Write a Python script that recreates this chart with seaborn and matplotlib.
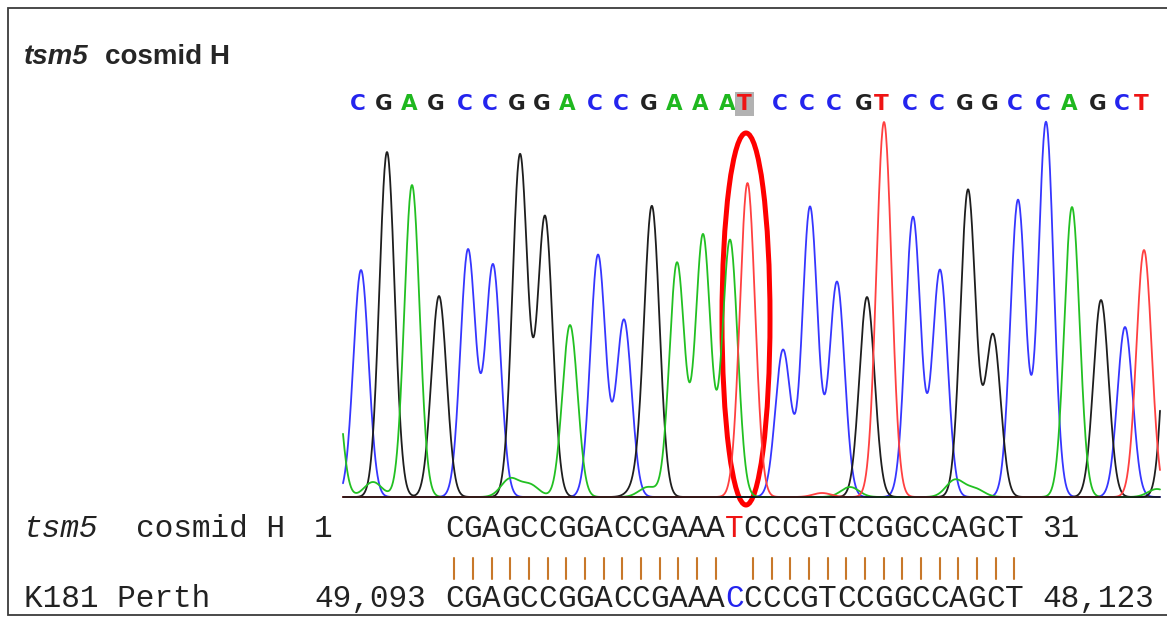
import numpy as np
import pandas as pd
import matplotlib.pyplot as plt
from matplotlib.patches import Ellipse
import seaborn as sns

# base calls over the trace window and the peak read for each one
# (scan position in px, height above the baseline in px)
base_calls = list("CGAGCCGGACCGAAATCCCGTCCGGCCAGCT")
peak_pos = [361, 387, 412, 439, 468, 493, 520, 545, 570, 598, 624, 652, 677, 703, 730,
            747.5, 783, 810, 837, 867, 884, 913, 940, 968, 993, 1018, 1046, 1072, 1101, 1125, 1144]
peak_height = [227, 345, 312, 201, 247, 232, 342, 280, 172, 242, 177, 285, 234, 262, 257,
               314, 147, 290, 215, 200, 375, 280, 227, 307, 162, 297, 375, 290, 197, 170, 247]

# peaks cut off by the edges of the window
edge_bases = ["A", "G"]
edge_pos = [333, 1172]
edge_height = [150, 300]

# small background bumps near the baseline
minor_bases = ["A", "A", "A", "G", "A", "T", "A", "A", "A", "A"]
minor_pos = [373, 510, 530, 640, 648, 822, 850, 955, 975, 1157]
minor_height = [15, 18, 12, 15, 10, 4, 10, 17, 8, 8]

# alignment below the trace
query_name = "tsm5"
query_desc = "cosmid H"
query_seq = "CGAGCCGGACCGAAATCCCGTCCGGCCAGCT"
query_start, query_end = "1", "31"
subject_name = "K181 Perth"
subject_seq = "CGAGCCGGACCGAAACCCCGTCCGGCCAGCT"
subject_start, subject_end = "49,093", "48,123"

trace_colors = {"C": "#3636ff", "G": "#1e1e1e", "A": "#22c022", "T": "#ff4040"}
call_colors = {"C": "#2424ee", "G": "#222222", "A": "#1fb81f", "T": "#ee1414"}

BASELINE = 497
X0, X1 = 343, 1160
SIGMA = 7.6
SIGMA_MINOR = 9.0

# build the four channels from the peak readings
scan = np.arange(X0, X1 + 0.25, 0.5)
rows = []
for b in "CGAT":
    sig = np.zeros_like(scan)
    for groups, s in (((base_calls, peak_pos, peak_height), SIGMA),
                      ((edge_bases, edge_pos, edge_height), SIGMA),
                      ((minor_bases, minor_pos, minor_height), SIGMA_MINOR)):
        for bb, p, h in zip(*groups):
            if bb == b:
                sig += h * np.exp(-(scan - p) ** 2 / (2 * s ** 2))
    rows.append(pd.DataFrame({"scan": scan, "y": BASELINE - sig, "base": b}))
trace = pd.concat(rows, ignore_index=True)

sns.set_theme(style="white")
plt.rcParams["font.family"] = ["Liberation Sans", "DejaVu Sans"]

fig = plt.figure(figsize=(11.67, 6.17), dpi=100)
ax = fig.add_axes([0, 0, 1, 1])
ax.set_xlim(0, 1167)
ax.set_ylim(617, 0)
ax.axis("off")

# frame
ax.plot([1167, 8, 8, 1167], [8, 8, 615, 615], color="#3c3c3c", lw=1.3, solid_joinstyle="miter")

# title
ax.text(24, 64, "tsm5", fontsize=20, fontweight="bold", style="italic", va="baseline")
ax.text(105, 64, "cosmid H", fontsize=20, fontweight="bold", va="baseline")

# traces
sns.lineplot(data=trace, x="scan", y="y", hue="base", palette=trace_colors,
             hue_order=["C", "G", "A", "T"], estimator=None, sort=False,
             lw=1.3, legend=False, ax=ax)
ax.plot([X0, X1], [BASELINE, BASELINE], color="#111111", lw=1.2)

# base calls above the trace
mismatch = [i for i, (a, b) in enumerate(zip(query_seq, subject_seq)) if a != b]
for i, (b, p) in enumerate(zip(base_calls, peak_pos)):
    kw = {}
    if i in mismatch:
        kw["bbox"] = dict(boxstyle="square,pad=0.1", fc="#b2b2b2", ec="none")
    ax.text(p - 3, 110, b, color=call_colors[b], fontsize=15.5, fontweight="bold",
            family="DejaVu Sans", ha="center", va="baseline", **kw)

# highlight of the variant peak
ax.add_patch(Ellipse((746, 319), 48, 372, fill=False, ec="#ff0000", lw=3.6))

# alignment text
FS = 22.4
char_w = FS * 100 / 72 * 0.6
mono = ["Liberation Mono", "DejaVu Sans Mono"]
seq_x = 445
row1, row2 = 537, 607
ax.text(24, row1, query_name, family=mono, fontsize=FS, style="italic", color="#222222", va="baseline")
ax.text(24 + 6 * char_w, row1, query_desc, family=mono, fontsize=FS, color="#222222", va="baseline")
ax.text(314, row1, query_start, family=mono, fontsize=FS, color="#222222", va="baseline")
ax.text(24, row2, subject_name, family=mono, fontsize=FS, color="#222222", va="baseline")
ax.text(314, row2, subject_start, family=mono, fontsize=FS, color="#222222", va="baseline")
for i, (a, b) in enumerate(zip(query_seq, subject_seq)):
    x = seq_x + i * char_w
    ax.text(x, row1, a, family=mono, fontsize=FS, va="baseline",
            color="#ee1414" if a != b else "#222222")
    ax.text(x, row2, b, family=mono, fontsize=FS, va="baseline",
            color="#2424ee" if a != b else "#222222")
    if a == b:
        ax.plot([x + char_w / 2] * 2, [558, 579], color="#c8782a", lw=1.5)
end_x = seq_x + (len(query_seq) + 1) * char_w
ax.text(end_x, row1, query_end, family=mono, fontsize=FS, color="#222222", va="baseline")
ax.text(end_x, row2, subject_end, family=mono, fontsize=FS, color="#222222", va="baseline")

fig.savefig("out.png", dpi=100, facecolor="white")
